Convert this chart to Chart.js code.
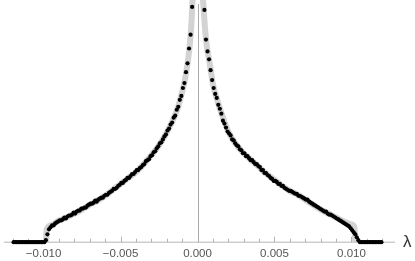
<!DOCTYPE html>
<html>
<head>
<meta charset="utf-8">
<script src="https://cdn.jsdelivr.net/npm/chart.js@4/dist/chart.umd.min.js"></script>
<style>
html,body{margin:0;padding:0;background:#fff;}
#wrap{width:415px;height:261px;}
</style>
</head>
<body>
<div id="wrap"><canvas id="c" width="415" height="261"></canvas></div>
<script>
// ---- data (histogram bin centres and counts) ----
const binCenters = [
-0.01195,-0.01185,-0.01175,-0.01165,-0.01155,-0.01145,-0.01135,-0.01125,-0.01115,-0.01105,
-0.01095,-0.01085,-0.01075,-0.01065,-0.01055,-0.01045,-0.01035,-0.01025,-0.01015,-0.01005,
-0.00995,-0.00985,-0.00975,-0.00965,-0.00955,-0.00945,-0.00935,-0.00925,-0.00915,-0.00905,
-0.00895,-0.00885,-0.00875,-0.00865,-0.00855,-0.00845,-0.00835,-0.00825,-0.00815,-0.00805,
-0.00795,-0.00785,-0.00775,-0.00765,-0.00755,-0.00745,-0.00735,-0.00725,-0.00715,-0.00705,
-0.00695,-0.00685,-0.00675,-0.00665,-0.00655,-0.00645,-0.00635,-0.00625,-0.00615,-0.00605,
-0.00595,-0.00585,-0.00575,-0.00565,-0.00555,-0.00545,-0.00535,-0.00525,-0.00515,-0.00505,
-0.00495,-0.00485,-0.00475,-0.00465,-0.00455,-0.00445,-0.00435,-0.00425,-0.00415,-0.00405,
-0.00395,-0.00385,-0.00375,-0.00365,-0.00355,-0.00345,-0.00335,-0.00325,-0.00315,-0.00305,
-0.00295,-0.00285,-0.00275,-0.00265,-0.00255,-0.00245,-0.00235,-0.00225,-0.00215,-0.00205,
-0.00195,-0.00185,-0.00175,-0.00165,-0.00155,-0.00145,-0.00135,-0.00125,-0.00115,-0.00105,
-0.00095,-0.00085,-0.00075,-0.00065,-0.00055,-0.00045,-0.00035,-0.00025,-0.00015,-0.00005,
0.00005,0.00015,0.00025,0.00035,0.00045,0.00055,0.00065,0.00075,0.00085,0.00095,
0.00105,0.00115,0.00125,0.00135,0.00145,0.00155,0.00165,0.00175,0.00185,0.00195,
0.00205,0.00215,0.00225,0.00235,0.00245,0.00255,0.00265,0.00275,0.00285,0.00295,
0.00305,0.00315,0.00325,0.00335,0.00345,0.00355,0.00365,0.00375,0.00385,0.00395,
0.00405,0.00415,0.00425,0.00435,0.00445,0.00455,0.00465,0.00475,0.00485,0.00495,
0.00505,0.00515,0.00525,0.00535,0.00545,0.00555,0.00565,0.00575,0.00585,0.00595,
0.00605,0.00615,0.00625,0.00635,0.00645,0.00655,0.00665,0.00675,0.00685,0.00695,
0.00705,0.00715,0.00725,0.00735,0.00745,0.00755,0.00765,0.00775,0.00785,0.00795,
0.00805,0.00815,0.00825,0.00835,0.00845,0.00855,0.00865,0.00875,0.00885,0.00895,
0.00905,0.00915,0.00925,0.00935,0.00945,0.00955,0.00965,0.00975,0.00985,0.00995,
0.01005,0.01015,0.01025,0.01035,0.01045,0.01055,0.01065,0.01075,0.01085,0.01095,
0.01105,0.01115,0.01125,0.01135,0.01145,0.01155,0.01165,0.01175,0.01185,0.01195
];
const binCounts = [
0,0,0,0,0,0,0,0,0,0,
0,0,0,0,0,0,0,0,0,0,
0,2,8,13,15,17,17,19,20,21,
22,22,23,25,24,26,27,27,28,30,
29,31,32,32,34,34,35,35,37,38,
39,39,40,42,41,43,44,45,45,47,
48,48,50,51,52,54,54,55,57,58,
60,60,62,63,65,65,67,69,69,71,
73,73,75,76,78,79,82,83,84,87,
88,91,92,95,97,100,101,104,107,109,
113,115,119,121,126,128,134,137,144,148,
156,161,172,181,196,210,238,280,350,450,
450,350,300,258,235,205,193,185,174,164,
156,150,146,139,135,130,123,120,116,112,
110,108,104,103,100,98,97,94,93,90,
90,87,87,85,83,83,81,79,79,77,
76,73,73,70,70,68,67,65,64,62,
62,61,59,59,57,57,55,54,53,52,
52,51,50,49,49,47,47,46,45,44,
43,43,41,40,39,38,37,36,35,34,
33,32,31,31,29,28,28,27,26,25,
24,23,22,21,20,19,18,17,16,14,
12,10,8,5,2,0,0,0,0,0,
0,0,0,0,0,0,0,0,0,0
];
// theoretical density (grey curve), same units
const curveLambda = [
-0.00985,-0.0098,-0.0095,-0.009,-0.0085,-0.008,-0.0075,-0.007,-0.0065,-0.006,
-0.0055,-0.005,-0.0045,-0.004,-0.0035,-0.003,-0.0025,-0.002,-0.0015,-0.0012,
-0.001,-0.0008,-0.0006,-0.0005,-0.0004,-0.0003,-0.0002,
0.0002,0.0003,0.0004,0.0005,0.0006,0.0008,0.001,0.0012,0.0015,0.002,
0.0025,0.003,0.0035,0.004,0.0045,0.005,0.0055,0.006,0.0065,0.007,
0.0075,0.008,0.0085,0.009,0.0095,0.01,0.0102,0.01025
];
const curveDensity = [
0,13,17,22,25,29,33,38,42,47,
53,59,65,71,79,88,98,111,127,140,
152,166,186,200,220,255,310,
320,262,236,214,199,180,160,148,133,112,
99,90,83,76,69,63,57,52,48,43,
38,33,29,25,21,18,15,0
];
const tickValues = [-0.010,-0.005,0.000,0.005,0.010];
const tickLabels = ["\u22120.010","\u22120.005","0.000","0.005","0.010"];
const minorTickValues = [-0.012,-0.011,-0.010,-0.009,-0.008,-0.007,-0.006,-0.005,-0.004,-0.003,-0.002,-0.001,0,
  0.001,0.002,0.003,0.004,0.005,0.006,0.007,0.008,0.009,0.010,0.011,0.012];
const axisLabel = "\u03BB";

const X_MIN = -0.012572, X_MAX = 0.012830, Y_MAX = 241;

const dotPoints = binCenters.map((x, i) => ({x: x, y: binCounts[i]}));
const curvePoints = curveLambda.map((x, i) => ({x: x, y: curveDensity[i]}));

const axesPlugin = {
  id: 'mmaAxes',
  beforeDatasetsDraw(chart) {
    const {ctx, chartArea} = chart;
    const xs = chart.scales.x;
    const yb = chartArea.bottom;
    ctx.save();
    ctx.lineWidth = 1;
    ctx.strokeStyle = '#b5b5b5';
    ctx.beginPath();
    ctx.moveTo(chartArea.left, yb);
    ctx.lineTo(chartArea.right, yb);
    ctx.stroke();
    minorTickValues.forEach(v => {
      const px = Math.round(xs.getPixelForValue(v)) + 0.5;
      const major = tickValues.some(t => Math.abs(t - v) < 1e-9);
      const len = major ? 5.5 : 3.5;
      ctx.beginPath();
      ctx.moveTo(px, yb);
      ctx.lineTo(px, yb - len);
      ctx.stroke();
    });
    const x0 = Math.round(xs.getPixelForValue(0)) + 0.5;
    ctx.strokeStyle = '#aaaaaa';
    ctx.beginPath();
    ctx.moveTo(x0, chartArea.top);
    ctx.lineTo(x0, yb);
    ctx.stroke();
    ctx.restore();
  },
  afterDraw(chart) {
    const {ctx, chartArea} = chart;
    ctx.save();
    ctx.fillStyle = '#333333';
    ctx.font = '17px "Liberation Sans", Arial, sans-serif';
    ctx.textAlign = 'left';
    ctx.textBaseline = 'middle';
    ctx.fillText(axisLabel, chartArea.right + 8, chartArea.bottom);
    ctx.restore();
  }
};

new Chart(document.getElementById('c'), {
  type: 'line',
  data: {
    datasets: [
      {
        label: 'histogram',
        data: dotPoints,
        showLine: false,
        pointRadius: 2.1,
        pointBorderWidth: 0,
        pointBackgroundColor: '#000000',
        pointBorderColor: '#000000',
        clip: false,
        order: 0
      },
      {
        label: 'density',
        data: curvePoints,
        borderColor: '#d3d3d3',
        borderWidth: 6,
        pointRadius: 0,
        cubicInterpolationMode: 'monotone',
        fill: false,
        clip: false,
        order: 1
      }
    ]
  },
  options: {
    responsive: false,
    animation: false,
    devicePixelRatio: 1,
    layout: {padding: {left: 0, right: 20, top: 0, bottom: -4}},
    plugins: {legend: {display: false}, tooltip: {enabled: false}},
    scales: {
      x: {
        type: 'linear',
        min: X_MIN,
        max: X_MAX,
        grid: {display: false, drawTicks: false},
        border: {display: false},
        afterBuildTicks: (axis) => { axis.ticks = tickValues.map(v => ({value: v})); },
        ticks: {
          autoSkip: false,
          maxRotation: 0,
          padding: 4.5,
          color: '#555555',
          font: {family: '"Liberation Sans", Arial, sans-serif', size: 11.5},
          callback: (value, index) => tickLabels[index]
        }
      },
      y: {
        type: 'linear',
        display: false,
        min: 0,
        max: Y_MAX
      }
    }
  },
  plugins: [axesPlugin]
});
</script>
</body>
</html>
